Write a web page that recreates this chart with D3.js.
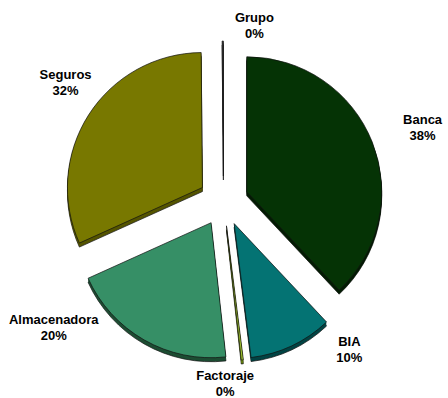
<!DOCTYPE html>
<html>
<head>
<meta charset="utf-8">
<script src="https://cdn.jsdelivr.net/npm/d3@7"></script>
<style>
  html, body { margin: 0; padding: 0; background: #fff; }
  svg { display: block; }
</style>
</head>
<body>
<div id="chart"></div>
<script>
// Portfolio share by business unit (percent)
const categories = ['Banca', 'BIA', 'Factoraje', 'Almacenadora', 'Seguros', 'Grupo'];
const values = [38.0, 10.0, 0.25, 20.0, 31.6, 0.15];

// Colours: top face and the darker side of each slice
const faceColors = ['#053305', '#047373', '#a4c832', '#368f66', '#787800', '#4a4a4a'];
const sideColors = ['#021c02', '#024444', '#5f7a10', '#1d4d33', '#555500', '#333333'];

// Label placement around the pie (degrees clockwise from top, distance from centre)
const labelAngle = [69.9, 139.8, 179.5, 233.2, 306.7, 10];
const labelRadius = [212, 195, 183, 212, 197, 178];

const width = 448;
const height = 398;
const cx = 223.5;
const cy = 201;
const radius = 135;
const explode = 25;
const depth = 4;

const svg = d3.select('#chart').append('svg')
  .attr('width', width)
  .attr('height', height);

svg.append('rect')
  .attr('width', width)
  .attr('height', height)
  .attr('fill', '#fff');

const data = categories.map((c, i) => ({ name: c, value: values[i], i: i }));

const pie = d3.pie()
  .sort(null)
  .value(d => d.value);

const arc = d3.arc()
  .innerRadius(0)
  .outerRadius(radius);

const arcs = pie(data);
const total = d3.sum(values);

const root = svg.append('g')
  .attr('transform', `translate(${cx},${cy})`);

// offset of each exploded slice
function offset(a) {
  const mid = (a.startAngle + a.endAngle) / 2;
  return [explode * Math.sin(mid), -explode * Math.cos(mid)];
}

const slices = root.selectAll('.slice')
  .data(arcs)
  .enter().append('g')
  .attr('class', 'slice')
  .attr('transform', d => {
    const [ox, oy] = offset(d);
    return `translate(${ox},${oy})`;
  });

// side (extrusion) drawn as stacked copies shifted downward
slices.each(function (d) {
  const g = d3.select(this);
  for (let k = depth; k >= 1; k--) {
    g.append('path')
      .attr('d', arc(d))
      .attr('transform', `translate(0,${k})`)
      .attr('fill', sideColors[d.data.i])
      .attr('stroke', k === depth ? '#111' : 'none')
      .attr('stroke-width', 0.7)
      .attr('stroke-linejoin', 'round');
  }
});

// top face
slices.append('path')
  .attr('d', d => arc(d))
  .attr('fill', d => faceColors[d.data.i])
  .attr('stroke', '#111')
  .attr('stroke-width', 0.7)
  .attr('stroke-linejoin', 'round');

// labels
const labels = root.selectAll('.label')
  .data(arcs)
  .enter().append('text')
  .attr('class', 'label')
  .attr('text-anchor', 'middle')
  .attr('font-family', '"Liberation Sans", Arial, sans-serif')
  .attr('font-weight', 'bold')
  .attr('font-size', '13px')
  .attr('fill', '#000')
  .attr('transform', d => {
    const a = labelAngle[d.data.i] * Math.PI / 180;
    const r = labelRadius[d.data.i];
    return `translate(${r * Math.sin(a)},${-r * Math.cos(a)})`;
  });

labels.append('tspan')
  .attr('x', 0)
  .attr('y', -4)
  .text(d => d.data.name);

labels.append('tspan')
  .attr('x', 0)
  .attr('y', 12)
  .text(d => Math.round(d.data.value / total * 100) + '%');
</script>
</body>
</html>
